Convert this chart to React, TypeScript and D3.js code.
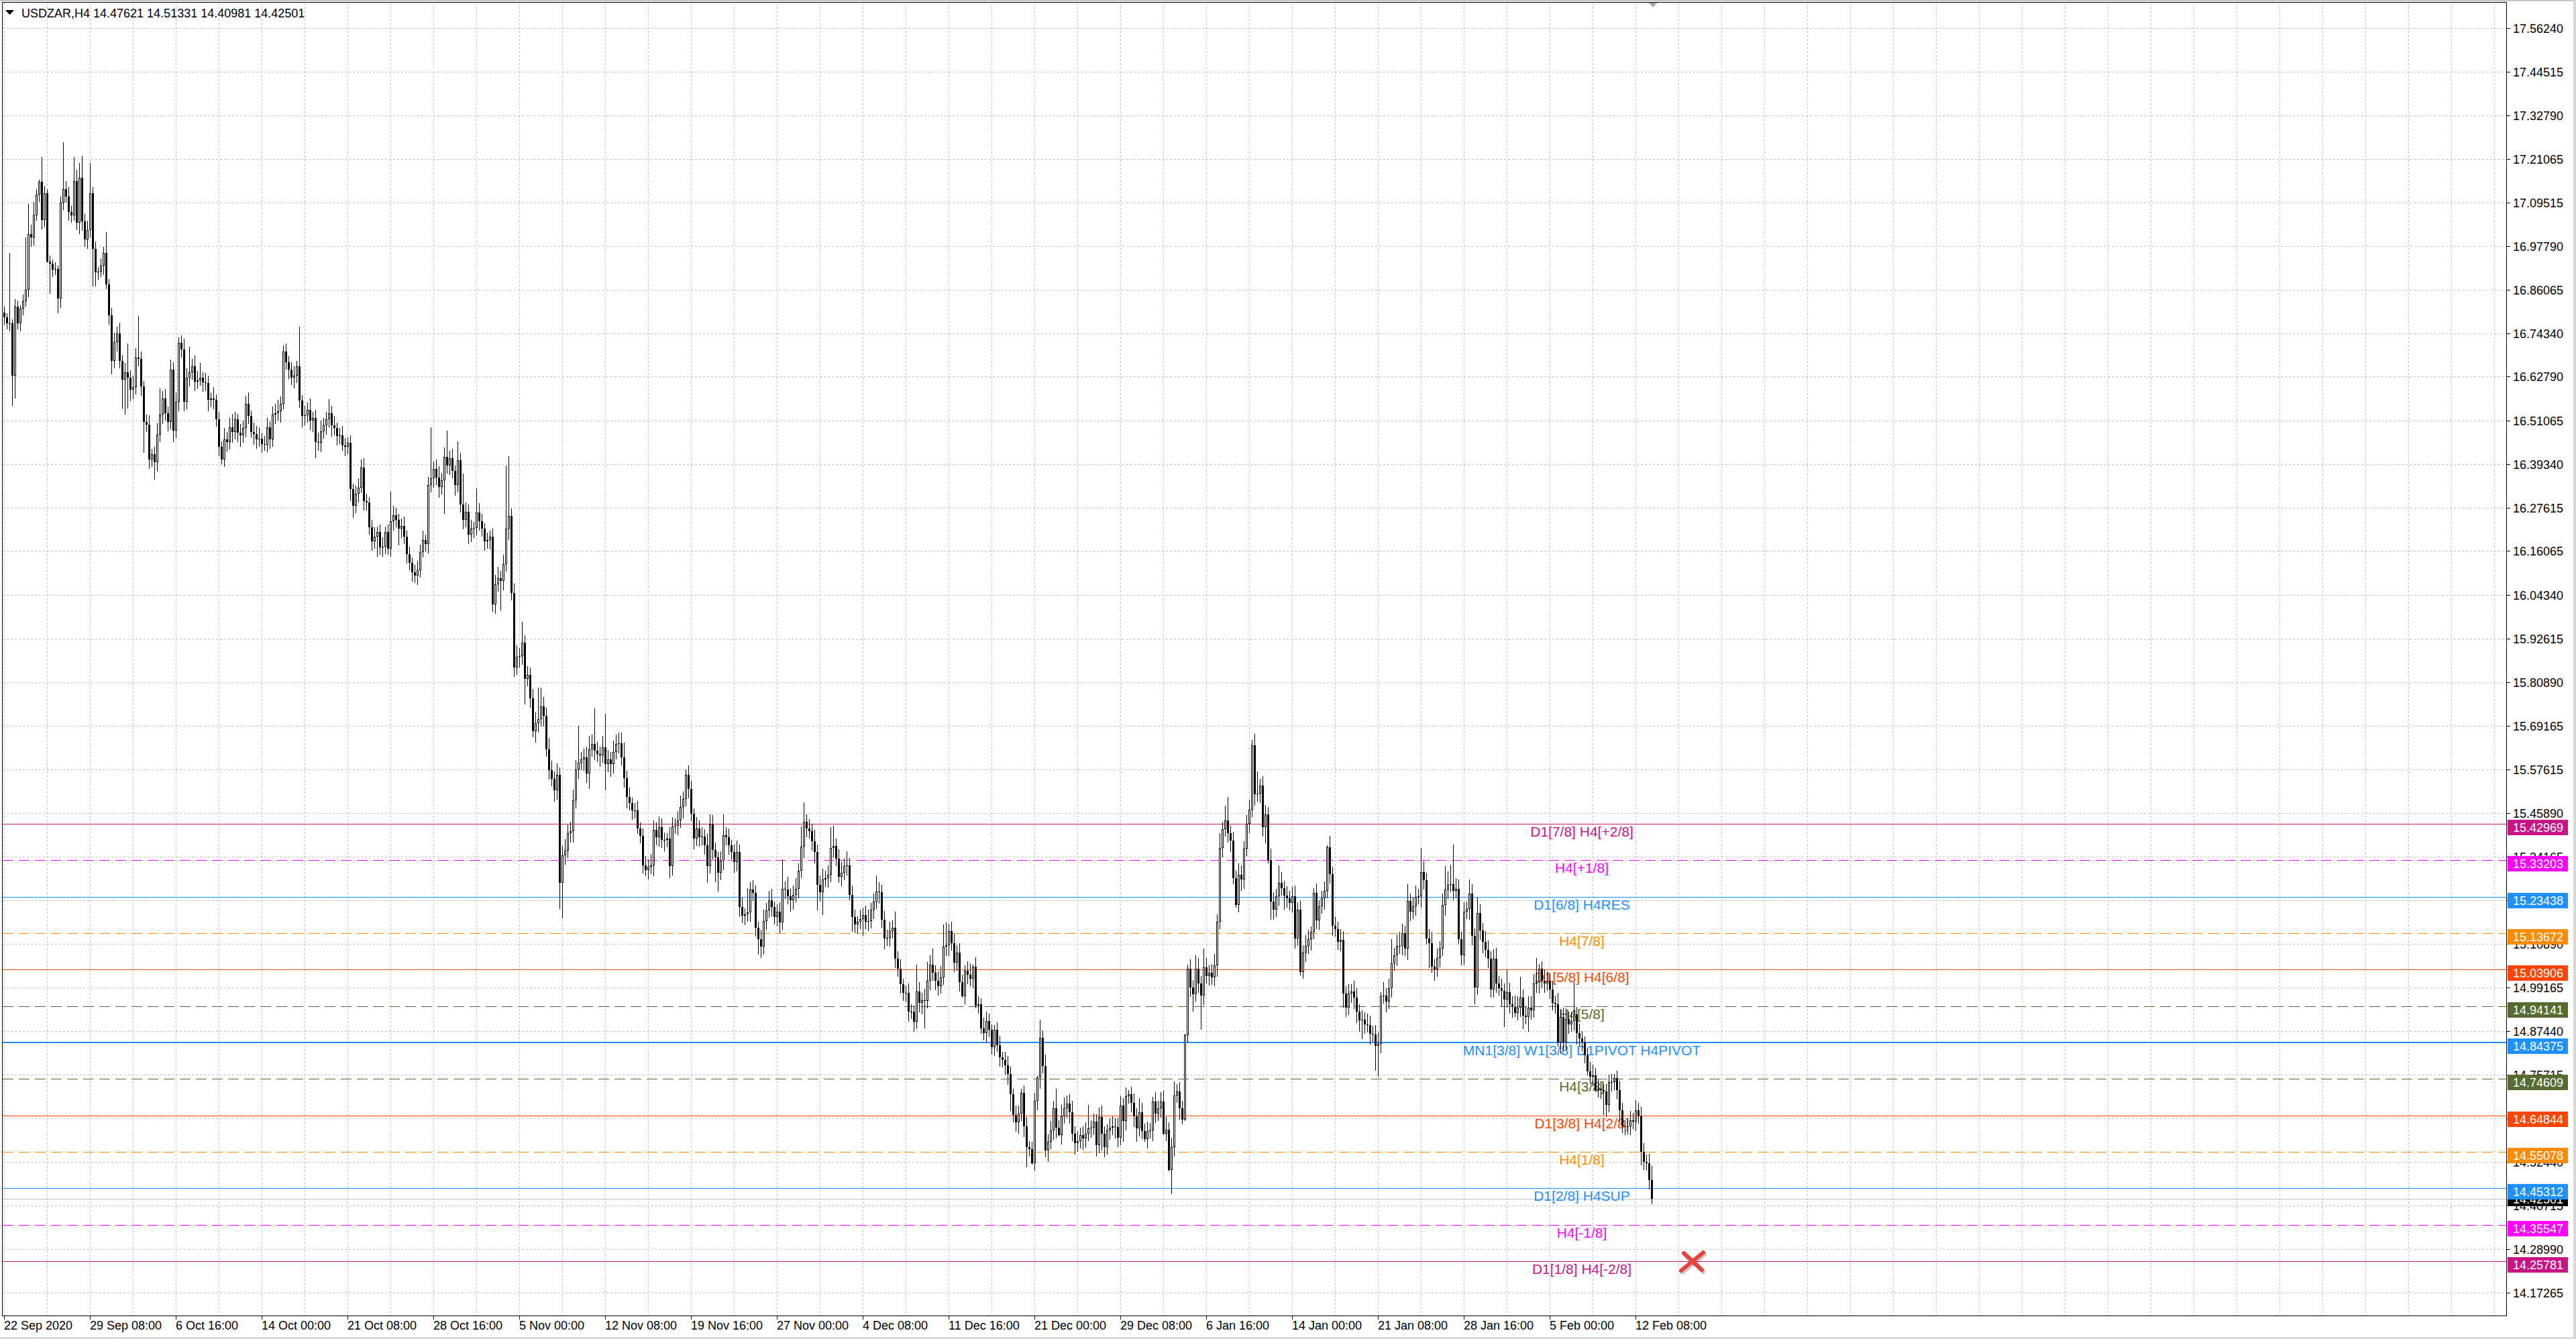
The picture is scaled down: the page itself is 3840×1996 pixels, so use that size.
import React from 'react'
import * as d3 from 'd3'

// chart frame (MT4 window at 3840x1996)
const W = 3840
const H = 1996
const PLOT = { left: 4, top: 4, right: 3737, bottom: 1962 }

const symbol = 'USDZAR,H4'
const lastOHLC = [14.47621, 14.51331, 14.40981, 14.42501]
const firstOpen = 16.8

// H4 closes (opens = previous close)
const closes = [
  16.787, 16.77, 16.77, 16.63, 16.816, 16.77, 16.81, 16.83, 16.86, 17.01,
  17.0, 17.06, 17.115, 17.15, 17.048, 17.12, 16.937, 16.93, 16.915, 16.916,
  16.837, 17.094, 17.131, 17.11, 17.07, 17.06, 17.152, 17.04, 17.16, 17.044,
  16.995, 17.02, 17.12, 16.97, 16.907, 16.91, 16.925, 16.96, 16.875, 16.793,
  16.671, 16.72, 16.743, 16.671, 16.62, 16.64, 16.625, 16.593, 16.6, 16.68,
  16.676, 16.601, 16.506, 16.5, 16.406, 16.42, 16.398, 16.473, 16.527, 16.57,
  16.53, 16.506, 16.647, 16.483, 16.56, 16.719, 16.7, 16.56, 16.626, 16.64,
  16.655, 16.614, 16.618, 16.625, 16.613, 16.61, 16.566, 16.57, 16.565, 16.514,
  16.44, 16.406, 16.46, 16.452, 16.493, 16.48, 16.514, 16.477, 16.47, 16.49,
  16.555, 16.522, 16.48, 16.475, 16.46, 16.462, 16.448, 16.445, 16.493, 16.46,
  16.527, 16.53, 16.535, 16.555, 16.696, 16.667, 16.647, 16.626, 16.63, 16.655,
  16.564, 16.522, 16.524, 16.539, 16.51, 16.518, 16.452, 16.45, 16.481, 16.497,
  16.513, 16.53, 16.497, 16.49, 16.468, 16.47, 16.444, 16.44, 16.45, 16.327,
  16.282, 16.315, 16.331, 16.385, 16.294, 16.29, 16.224, 16.187, 16.2, 16.212,
  16.17, 16.172, 16.212, 16.166, 16.24, 16.257, 16.245, 16.22, 16.228, 16.2,
  16.153, 16.129, 16.104, 16.095, 16.11, 16.158, 16.19, 16.18, 16.338, 16.356,
  16.38, 16.358, 16.333, 16.35, 16.413, 16.389, 16.41, 16.375, 16.338, 16.404,
  16.285, 16.244, 16.266, 16.205, 16.22, 16.223, 16.264, 16.24, 16.22, 16.186,
  16.19, 16.2, 16.018, 16.071, 16.088, 16.08, 16.126, 16.22, 16.255, 16.048,
  15.849, 15.878, 15.88, 15.915, 15.818, 15.828, 15.766, 15.678, 15.699, 15.71,
  15.745, 15.72, 15.63, 15.573, 15.55, 15.52, 15.561, 15.271, 15.345, 15.358,
  15.405, 15.41, 15.492, 15.575, 15.593, 15.602, 15.607, 15.564, 15.63, 15.644,
  15.625, 15.616, 15.613, 15.635, 15.589, 15.602, 15.59, 15.623, 15.644, 15.645,
  15.607, 15.552, 15.501, 15.485, 15.465, 15.466, 15.418, 15.398, 15.319, 15.306,
  15.315, 15.319, 15.414, 15.393, 15.42, 15.386, 15.387, 15.39, 15.317, 15.423,
  15.425, 15.439, 15.475, 15.497, 15.561, 15.524, 15.457, 15.391, 15.418, 15.393,
  15.396, 15.372, 15.317, 15.428, 15.359, 15.34, 15.299, 15.331, 15.4, 15.393,
  15.372, 15.354, 15.328, 15.354, 15.207, 15.184, 15.188, 15.193, 15.253, 15.244,
  15.152, 15.12, 15.1, 15.17, 15.198, 15.225, 15.207, 15.18, 15.195, 15.166,
  15.255, 15.253, 15.235, 15.225, 15.24, 15.255, 15.304, 15.368, 15.435, 15.418,
  15.41, 15.383, 15.354, 15.267, 15.246, 15.28, 15.284, 15.294, 15.365, 15.37,
  15.336, 15.288, 15.298, 15.316, 15.318, 15.24, 15.18, 15.16, 15.167, 15.174,
  15.186, 15.167, 15.17, 15.2, 15.222, 15.248, 15.246, 15.172, 15.122, 15.125,
  15.143, 15.151, 15.069, 15.041, 15.0, 14.976, 14.977, 14.926, 14.927, 14.9,
  14.981, 14.95, 14.957, 14.955, 15.009, 15.052, 15.03, 15.009, 14.995, 15.019,
  15.1, 15.105, 15.143, 15.11, 15.057, 15.085, 15.005, 14.967, 15.036, 15.026,
  15.015, 15.047, 14.942, 14.947, 14.881, 14.869, 14.902, 14.878, 14.832, 14.878,
  14.836, 14.804, 14.798, 14.783, 14.76, 14.705, 14.65, 14.63, 14.654, 14.709,
  14.62, 14.564, 14.558, 14.52, 14.688, 14.75, 14.857, 14.781, 14.554, 14.578,
  14.609, 14.668, 14.616, 14.595, 14.647, 14.668, 14.681, 14.657, 14.599, 14.575,
  14.58, 14.595, 14.586, 14.6, 14.613, 14.616, 14.632, 14.568, 14.644, 14.6,
  14.564, 14.609, 14.616, 14.62, 14.617, 14.588, 14.675, 14.633, 14.7, 14.705,
  14.682, 14.647, 14.613, 14.657, 14.606, 14.585, 14.606, 14.609, 14.685, 14.654,
  14.668, 14.685, 14.599, 14.61, 14.502, 14.564, 14.702, 14.712, 14.668, 14.637,
  14.864, 15.041, 14.991, 14.974, 15.041, 15.002, 14.97, 15.046, 15.022, 15.03,
  15.019, 15.05, 15.167, 15.365, 15.415, 15.439, 15.405, 15.384, 15.284, 15.212,
  15.294, 15.28, 15.363, 15.429, 15.467, 15.64, 15.509, 15.51, 15.533, 15.42,
  15.455, 15.333, 15.221, 15.2, 15.235, 15.271, 15.257, 15.237, 15.23, 15.218,
  15.235, 15.122, 15.199, 15.033, 15.085, 15.102, 15.12, 15.14, 15.244, 15.171,
  15.209, 15.23, 15.25, 15.367, 15.295, 15.157, 15.147, 15.113, 15.118, 14.975,
  14.937, 14.975, 14.98, 14.964, 14.927, 14.903, 14.905, 14.892, 14.89, 14.868,
  14.866, 14.834, 14.84, 14.968, 14.97, 14.954, 14.989, 15.056, 15.078, 15.102,
  15.102, 15.137, 15.095, 15.223, 15.195, 15.209, 15.234, 15.236, 15.3, 15.278,
  15.122, 15.11, 15.047, 15.04, 15.071, 15.095, 15.213, 15.254, 15.267, 15.268,
  15.25, 15.255, 15.12, 15.078, 15.195, 15.202, 15.243, 15.13, 14.992, 15.19,
  15.144, 15.113, 15.092, 15.068, 14.985, 15.068, 15.002, 14.99, 14.982, 14.958,
  14.978, 14.947, 14.94, 14.923, 14.937, 14.965, 14.916, 14.913, 14.937, 14.93,
  15.002, 15.005, 15.042, 15.009, 15.002, 15.009, 14.985, 14.95, 14.947, 14.844,
  14.913, 14.844, 14.906, 14.893, 14.902, 14.92, 14.869, 14.854, 14.845, 14.809,
  14.767, 14.752, 14.755, 14.716, 14.72, 14.717, 14.712, 14.677, 14.737, 14.737,
  14.749, 14.716, 14.662, 14.62, 14.617, 14.62, 14.635, 14.632, 14.662, 14.647,
  14.551, 14.524, 14.521, 14.476, 14.425,
]

// upper / lower shadows per bar, in thousandths of a rand
const wickUp = [
  15, 10, 190, 12, 20, 15, 10, 18, 140, 80, 25, 36, 15, 6, 66, 20, 10, 15, 12, 18,
  10, 17, 126, 20, 25, 15, 64, 30, 40, 60, 20, 25, 80, 15, 20, 12, 20, 15, 55, 15,
  20, 25, 18, 30, 15, 25, 77, 20, 30, 25, 110, 20, 15, 20, 25, 15, 20, 30, 70, 20,
  25, 18, 27, 20, 25, 14, 20, 30, 25, 67, 20, 30, 25, 40, 15, 25, 20, 15, 30, 15,
  20, 15, 30, 20, 25, 35, 20, 15, 25, 20, 21, 30, 15, 25, 20, 30, 15, 20, 25, 15,
  20, 25, 30, 20, 16, 20, 15, 20, 25, 15, 106, 15, 25, 20, 30, 15, 20, 25, 30, 20,
  20, 38, 20, 25, 15, 20, 25, 20, 15, 20, 15, 20, 25, 20, 25, 20, 15, 20, 25, 15,
  20, 25, 15, 20, 80, 25, 20, 15, 20, 25, 15, 20, 15, 20, 25, 20, 25, 15, 22, 136,
  20, 25, 30, 20, 25, 70, 20, 25, 15, 50, 20, 83, 25, 20, 25, 15, 64, 25, 20, 15,
  20, 15, 20, 25, 30, 20, 25, 170, 160, 20, 25, 30, 20, 55, 20, 25, 20, 25, 30, 85,
  50, 25, 20, 30, 25, 20, 30, 20, 25, 30, 23, 25, 30, 25, 100, 20, 25, 30, 35, 25,
  95, 25, 20, 30, 90, 25, 20, 30, 25, 30, 30, 40, 20, 25, 15, 20, 25, 15, 20, 25,
  20, 30, 25, 20, 30, 25, 20, 15, 30, 25, 20, 25, 30, 20, 14, 25, 20, 15, 30, 20,
  25, 20, 30, 27, 25, 20, 15, 25, 55, 20, 25, 15, 20, 30, 20, 25, 15, 64, 20, 25,
  20, 15, 25, 30, 20, 25, 30, 15, 20, 25, 80, 20, 35, 20, 25, 30, 20, 55, 52, 20,
  25, 20, 30, 20, 25, 30, 20, 25, 55, 54, 20, 25, 30, 20, 38, 20, 25, 20, 15, 25,
  20, 25, 30, 18, 20, 43, 26, 20, 25, 20, 25, 20, 43, 20, 25, 15, 20, 25, 20, 15,
  72, 25, 20, 30, 51, 25, 43, 20, 25, 30, 60, 60, 19, 25, 25, 20, 25, 20, 14, 25,
  30, 6, 25, 20, 15, 30, 25, 20, 15, 13, 20, 25, 15, 20, 25, 20, 15, 25, 20, 10,
  20, 25, 15, 20, 21, 4, 48, 20, 30, 20, 25, 20, 52, 20, 30, 29, 20, 25, 30, 20,
  25, 20, 25, 30, 63, 20, 22, 20, 25, 30, 20, 16, 25, 27, 20, 25, 25, 20, 23, 11,
  20, 25, 20, 38, 25, 20, 25, 20, 14, 25, 20, 25, 30, 35, 20, 25, 38, 20, 25, 20,
  3, 12, 25, 20, 37, 30, 20, 49, 25, 20, 25, 31, 20, 40, 20, 39, 62, 20, 25, 20,
  30, 25, 20, 25, 28, 15, 30, 60, 17, 25, 25, 20, 30, 25, 20, 48, 30, 20, 25, 20,
  25, 30, 20, 25, 20, 30, 25, 15, 13, 25, 16, 20, 25, 5, 30, 20, 25, 20, 30, 25,
  20, 25, 20, 30, 25, 20, 25, 20, 30, 25, 20, 25, 30, 10, 36, 20, 25, 64, 20, 31,
  38, 25, 20, 45, 20, 25, 30, 20, 66, 30, 20, 25, 30, 20, 25, 20, 30, 62, 35, 52,
  106, 30, 25, 20, 25, 20, 38, 25, 20, 43, 25, 20, 30, 25, 20, 25, 30, 20, 25, 20,
  62, 25, 20, 30, 31, 55, 20, 25, 30, 31, 25, 66, 12, 20, 30, 25, 20, 25, 20, 30,
  20, 25, 30, 20, 25, 86, 20, 25, 20, 15, 20, 25, 30, 20, 25, 20, 15, 20, 21, 23,
  11, 20, 25, 20, 15, 20, 25, 20, 27, 20, 25, 24, 20, 25, 37,
]
const wickDn = [
  20, 15, 20, 80, 60, 15, 20, 18, 15, 20, 25, 20, 15, 18, 25, 20, 5, 80, 20, 15,
  40, 25, 20, 15, 25, 20, 15, 20, 30, 25, 20, 25, 20, 100, 37, 20, 15, 25, 13, 25,
  37, 20, 25, 20, 77, 93, 82, 30, 25, 20, 20, 25, 83, 20, 25, 20, 46, 25, 20, 25,
  20, 25, 20, 31, 20, 25, 20, 25, 20, 25, 20, 25, 20, 15, 25, 20, 30, 20, 25, 20,
  25, 12, 20, 25, 20, 30, 20, 25, 30, 20, 25, 20, 15, 30, 25, 20, 25, 15, 20, 25,
  20, 25, 20, 30, 15, 20, 25, 20, 30, 20, 20, 29, 25, 20, 25, 30, 42, 20, 25, 20,
  25, 20, 30, 20, 25, 20, 15, 25, 20, 32, 33, 20, 25, 15, 25, 20, 20, 25, 20, 55,
  20, 25, 20, 15, 20, 25, 20, 45, 25, 20, 25, 20, 25, 20, 25, 20, 15, 20, 25, 20,
  25, 20, 30, 20, 90, 20, 25, 20, 30, 20, 21, 25, 20, 25, 20, 25, 20, 25, 20, 25,
  20, 25, 20, 25, 20, 78, 25, 20, 30, 20, 25, 20, 30, 25, 68, 20, 25, 16, 30, 25,
  20, 30, 20, 25, 20, 30, 25, 69, 95, 25, 20, 25, 30, 20, 25, 20, 30, 25, 40, 20,
  25, 20, 30, 20, 69, 20, 35, 25, 20, 25, 20, 25, 30, 20, 25, 20, 15, 20, 22, 16,
  25, 20, 30, 20, 25, 20, 30, 20, 32, 25, 20, 25, 20, 30, 20, 25, 20, 30, 20, 25,
  20, 25, 45, 20, 25, 67, 51, 20, 25, 20, 25, 20, 30, 25, 27, 20, 25, 20, 25, 20,
  25, 40, 30, 20, 25, 20, 25, 20, 25, 30, 20, 25, 20, 30, 25, 20, 25, 20, 30, 25,
  20, 25, 30, 69, 25, 60, 20, 25, 20, 25, 20, 16, 25, 20, 25, 15, 40, 23, 25, 20,
  45, 20, 25, 20, 25, 20, 30, 20, 29, 20, 25, 20, 25, 21, 25, 20, 25, 26, 20, 27,
  20, 25, 30, 74, 20, 25, 20, 25, 25, 20, 20, 25, 30, 20, 25, 20, 25, 3, 20, 25,
  20, 25, 6, 20, 13, 20, 25, 20, 20, 25, 17, 25, 20, 25, 30, 45, 20, 25, 30, 20,
  30, 55, 20, 4, 20, 25, 30, 20, 17, 31, 20, 25, 30, 2, 25, 20, 25, 30, 20, 31,
  25, 20, 30, 25, 20, 25, 20, 30, 20, 46, 27, 20, 25, 20, 30, 25, 20, 55, 25, 20,
  25, 30, 35, 20, 21, 7, 25, 20, 30, 25, 20, 25, 4, 20, 3, 65, 25, 20, 30, 12,
  4, 20, 25, 48, 20, 25, 92, 25, 20, 25, 20, 25, 30, 20, 25, 20, 25, 30, 16, 6,
  20, 30, 25, 20, 25, 20, 30, 20, 25, 25, 43, 10, 49, 28, 20, 25, 20, 38, 25, 20,
  25, 27, 20, 10, 18, 25, 20, 30, 20, 24, 25, 20, 30, 20, 25, 27, 20, 21, 25, 38,
  24, 20, 25, 30, 31, 31, 50, 25, 20, 30, 20, 66, 82, 25, 20, 30, 20, 25, 20, 30,
  20, 25, 20, 30, 25, 20, 25, 20, 30, 25, 16, 66, 17, 31, 20, 25, 20, 30, 25, 20,
  25, 20, 14, 27, 25, 20, 30, 25, 45, 20, 25, 30, 20, 25, 21, 20, 25, 20, 42, 73,
  20, 25, 30, 10, 20, 25, 37, 20, 40, 25, 20, 25, 30, 20, 25, 20, 25, 20, 25, 11,
  30, 24, 20, 25, 20, 25, 30, 20, 25, 20, 12, 20, 25, 3, 20, 25, 62, 33, 20, 25,
  20, 25, 30, 18, 22, 20, 25, 20, 25, 20, 36, 22, 20, 25, 15,
]

// one label every 32 bars
const dateLabels = [
  '22 Sep 2020', '29 Sep 08:00', '6 Oct 16:00', '14 Oct 00:00', '21 Oct 08:00',
  '28 Oct 16:00', '5 Nov 00:00', '12 Nov 08:00', '19 Nov 16:00', '27 Nov 00:00',
  '4 Dec 08:00', '11 Dec 16:00', '21 Dec 00:00', '29 Dec 08:00', '6 Jan 16:00',
  '14 Jan 00:00', '21 Jan 08:00', '28 Jan 16:00', '5 Feb 00:00', '12 Feb 08:00',
]

const priceTicks = [
  17.5624, 17.44515, 17.3279, 17.21065, 17.09515, 16.9779, 16.86065, 16.7434,
  16.6279, 16.51065, 16.3934, 16.27615, 16.16065, 16.0434, 15.92615, 15.8089,
  15.69165, 15.57615, 15.4589, 15.34165, 15.2244, 15.1089, 14.99165, 14.8744,
  14.75715, 14.6399, 14.5244, 14.40715, 14.2899, 14.17265,
]

const levelPrices = [
  15.42969, 15.33203, 15.23438, 15.13672, 15.03906, 14.94141, 14.84375,
  14.74609, 14.64844, 14.55078, 14.45312, 14.35547, 14.25781,
]
const levelNames = [
  'D1[7/8] H4[+2/8]', 'H4[+1/8]', 'D1[6/8] H4RES', 'H4[7/8]', 'D1[5/8] H4[6/8]',
  'H4[5/8]', 'MN1[3/8] W1[3/8] D1PIVOT H4PIVOT', 'H4[3/8]', 'D1[3/8] H4[2/8]',
  'H4[1/8]', 'D1[2/8] H4SUP', 'H4[-1/8]', 'D1[1/8] H4[-2/8]',
]

// styling of the level lines
const LEVEL_COLORS = [
  '#C71585', '#FF00FF', '#1E90FF', '#FF8C00', '#FF4500', '#556B2F', '#1E90FF',
  '#556B2F', '#FF4500', '#FF8C00', '#1E90FF', '#FF00FF', '#C71585',
]
const LEVEL_DASHED = [false, true, false, true, false, true, false, true, false, true, false, true, false]
const PIVOT_INDEX = 6

const FONT = '"Liberation Sans", Arial, sans-serif'

export default function App() {
  React.useEffect(() => {
    document.body.style.margin = '0'
    document.body.style.overflow = 'hidden'
  }, [])

  const x = d3.scaleLinear().domain([0, 1]).range([6, 10])
  const y = d3.scaleLinear().domain([14.17265, 17.5624]).range([1927.4, 41.6])

  const n = closes.length
  const candles = closes.map((c, i) => {
    if (i === n - 1) {
      const [o, h, l, cl] = lastOHLC
      return { i, o, h, l, c: cl }
    }
    const o = i === 0 ? firstOpen : closes[i - 1]
    const h = Math.max(o, c) + (wickUp[i] ?? 0) / 1000
    const l = Math.min(o, c) - (wickDn[i] ?? 0) / 1000
    return { i, o, h, l, c }
  })

  const bid = lastOHLC[3]
  const px = (v: number) => Math.round(y(v))

  const vGrid = d3.range(0, 59).map((k) => Math.round(x(16 * k)) + 0.5)
  const labelX = (k: number) => Math.round(x(32 * k))

  const header = `${symbol}  ${lastOHLC.map((v) => v.toFixed(5)).join(' ')}`

  return (
    <svg
      width={W}
      height={H}
      style={{ position: 'absolute', left: 0, top: 0, background: '#fff' }}
      fontFamily={FONT}
    >
      <rect x={0} y={0} width={W} height={H} fill="#fff" />
      {/* window edges */}
      <rect x={0} y={0} width={W} height={2} fill="#c8c8c8" />
      <rect x={3836} y={0} width={4} height={H} fill="#d8d8d8" />
      <rect x={0} y={1993} width={W} height={3} fill="#d8d8d8" />

      {/* grid */}
      <g stroke="#c0c0c0" strokeWidth={1} strokeDasharray="3,3" shapeRendering="crispEdges">
        {priceTicks.map((t) => (
          <line key={'h' + t} x1={PLOT.left} x2={PLOT.right} y1={px(t) + 0.5} y2={px(t) + 0.5} />
        ))}
        {vGrid.map((gx) => (
          <line key={'v' + gx} x1={gx} x2={gx} y1={PLOT.top} y2={PLOT.bottom} />
        ))}
      </g>

      {/* bid line */}
      <line
        x1={PLOT.left}
        x2={PLOT.right}
        y1={px(bid) + 0.5}
        y2={px(bid) + 0.5}
        stroke="#c0c0c0"
        strokeWidth={1}
        shapeRendering="crispEdges"
      />

      {/* murrey levels */}
      <g shapeRendering="crispEdges">
        {levelPrices.map((p, k) => {
          const w = k === PIVOT_INDEX ? 2 : 1
          const ly = k === PIVOT_INDEX ? px(p) : px(p) + 0.5
          return (
            <line
              key={'l' + k}
              x1={PLOT.left}
              x2={PLOT.right}
              y1={ly}
              y2={ly}
              stroke={LEVEL_COLORS[k]}
              strokeWidth={w}
              strokeDasharray={LEVEL_DASHED[k] ? '16,8' : undefined}
            />
          )
        })}
      </g>
      <g fontSize={21} textAnchor="middle">
        {levelPrices.map((p, k) => (
          <text key={'lt' + k} x={2358} y={px(p) + 19} fill={LEVEL_COLORS[k]}>
            {levelNames[k]}
          </text>
        ))}
      </g>

      {/* candles */}
      <g shapeRendering="crispEdges">
        {candles.map((d) => {
          const cx = Math.round(x(d.i))
          const hiY = px(d.h)
          const loY = px(d.l)
          const top = px(Math.max(d.o, d.c))
          const bot = px(Math.min(d.o, d.c))
          const bh = Math.max(1, bot - top)
          const bull = d.c > d.o
          return (
            <g key={d.i}>
              <rect x={cx} y={hiY} width={1} height={Math.max(1, loY - hiY)} fill="#000" />
              <rect x={cx - 1} y={top} width={3} height={bh} fill="#000" />
              {bull && bh >= 3 && <rect x={cx} y={top + 1} width={1} height={bh - 2} fill="#fff" />}
            </g>
          )
        })}
      </g>

      {/* plot border */}
      <rect
        x={PLOT.left - 0.5}
        y={PLOT.top - 0.5}
        width={PLOT.right - PLOT.left}
        height={PLOT.bottom - PLOT.top}
        fill="none"
        stroke="#000"
        strokeWidth={1}
        shapeRendering="crispEdges"
      />

      {/* header */}
      <path d="M8,15 L21,15 L14.5,22 Z" fill="#000" />
      <text x={32} y={26} fontSize={18} fill="#000">
        {header}
      </text>

      {/* chart shift marker */}
      <path d="M2457,4 L2471,4 L2464,11 Z" fill="#a8a8a8" />

      {/* price axis */}
      <g fontSize={18} fill="#000">
        {priceTicks.map((t) => (
          <g key={'t' + t}>
            <line
              x1={PLOT.right}
              x2={PLOT.right + 5}
              y1={px(t) + 0.5}
              y2={px(t) + 0.5}
              stroke="#000"
              shapeRendering="crispEdges"
            />
            <text x={3746} y={px(t) + 6.5}>
              {t.toFixed(5)}
            </text>
          </g>
        ))}
      </g>
      <g fontSize={18}>
        <rect x={3738} y={px(bid) - 11} width={90} height={22} fill="#000" />
        <text x={3746} y={px(bid) + 6.5} fill="#fff">
          {bid.toFixed(5)}
        </text>
        {levelPrices.map((p, k) => (
          <g key={'b' + k}>
            <rect x={3738} y={px(p) - 6} width={90} height={23} fill={LEVEL_COLORS[k]} />
            <text x={3746} y={px(p) + 12} fill="#fff">
              {p.toFixed(5)}
            </text>
          </g>
        ))}
      </g>

      {/* time axis */}
      <g fontSize={18} fill="#000">
        {dateLabels.map((s, k) => (
          <g key={s}>
            <line
              x1={labelX(k) + 0.5}
              x2={labelX(k) + 0.5}
              y1={PLOT.bottom}
              y2={PLOT.bottom + 5}
              stroke="#000"
              shapeRendering="crispEdges"
            />
            <text x={labelX(k)} y={1982}>
              {s}
            </text>
          </g>
        ))}
      </g>

      {/* red cross */}
      <g strokeLinecap="round" strokeWidth={6} fill="none">
        <g stroke="rgba(0,0,0,0.22)" transform="translate(2,3)">
          <line x1={2506} y1={1894} x2={2539} y2={1867} />
          <line x1={2510} y1={1868} x2={2537} y2={1893} />
        </g>
        <g stroke="#e8423c">
          <line x1={2506} y1={1894} x2={2539} y2={1867} />
          <line x1={2510} y1={1868} x2={2537} y2={1893} />
        </g>
      </g>
    </svg>
  )
}
